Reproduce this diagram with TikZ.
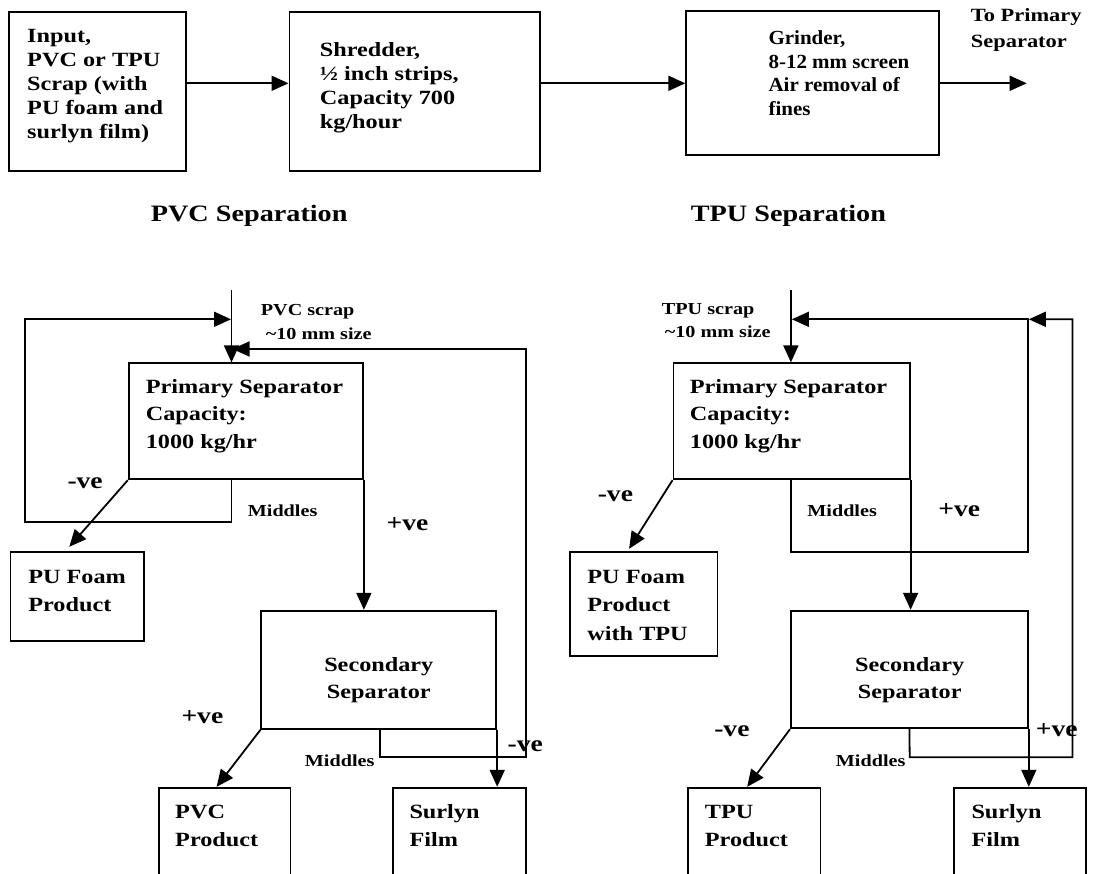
\documentclass[tikz,border=0pt]{standalone}
\usepackage{fontspec}
\setmainfont{Liberation Serif}[FakeStretch=1.2]
\newfontfamily\plainserif{Liberation Serif}[FakeStretch=1.05]
\usetikzlibrary{arrows.meta,fit}
\begin{document}
\begin{tikzpicture}[x=1pt,y=-1pt,
  line width=1.8pt,
  box/.style={draw, inner sep=0pt},
  arr/.style={-{Triangle[length=17pt,width=15pt]}},
  txt/.style={inner sep=0pt, align=left, anchor=base west},
  tA/.style={txt, font=\fontsize{20.2}{23.9}\selectfont\bfseries},
  tB/.style={txt, font=\fontsize{20.2}{28.3}\selectfont\bfseries},
  tC/.style={inner sep=0pt, align=center, anchor=base, font=\fontsize{20.2}{26.6}\selectfont\bfseries},
  ttl/.style={txt, font=\fontsize{23.5}{28}\selectfont\bfseries},
  sml/.style={txt, font=\fontsize{16.8}{23.5}\selectfont\bfseries},
  sgn/.style={txt, font=\fontsize{23}{28}\selectfont\bfseries}]
\clip (0,0) rectangle (1095,874);
% ---------- top row ----------
\node[box, fit={(8.8,11.7) (185.9,170.7)}] (input) {};
\node[box, fit={(289.4,11.7) (540.2,170.7)}] (shred) {};
\node[box, fit={(686.2,10.7) (939.3,155)}] (grind) {};
\node[tA] (tinput) at (26.3,138.3) {Input,\\PVC or TPU\\Scrap (with\\PU foam and\\surlyn film)};
\node[tA] (tshred) at (319,128.4) {Shredder,\\½ inch strips,\\Capacity 700\\kg/hour};
\node[txt, font=\plainserif\fontsize{20}{23.4}\selectfont\bfseries] (tgrind) at (767.6,115.2) {Grinder,\\8-12 mm screen\\Air removal of\\fines};
\node[txt, font=\fontsize{18.7}{26}\selectfont\bfseries] (toprim) at (970,48) {To Primary\\Separator};
\coordinate (out) at (1026.7,83.3);
\draw[arr] (input.east |- out) -- (shred.west |- out);
\draw[arr] (shred.east |- out) -- (grind.west |- out);
\draw[arr] (grind.east |- out) -- (out);
\node[ttl] (pvcsep) at (150,222) {PVC Separation};
\node[ttl] (tpusep) at (690,222) {TPU Separation};
% ---------- PVC separation ----------
\node[box, fit={(128.7,363.3) (363,479.3)}] (prim) {};
\node[box, fit={(10.5,551.7) (143.8,640.7)}] (pu) {};
\node[box, fit={(261.3,610.7) (496.3,729)}] (sec) {};
\node[box, fit={(158.9,787.7) (290.4,895)}] (pvc) {};
\node[box, fit={(392.8,787.7) (526.1,895)}] (sur) {};
\node[txt, font=\fontsize{20.2}{27.5}\selectfont\bfseries] (tprim) at (144.9,448.3) {Primary Separator\\Capacity:\\1000 kg/hr};
\node[tB] (tpu) at (27.4,611.7) {PU Foam\\Product};
\node[tC] (tsec) at (378.8,698.3) {Secondary\\Separator};
\node[tB] (tpvc) at (174.3,846.7) {PVC\\Product};
\node[tB] (tsur) at (408.6,846.7) {Surlyn\\Film};
\coordinate (pin) at (231.5,290);
\node[sml, font=\fontsize{16.8}{24}\selectfont\bfseries] (lscrap) at (260,340) {PVC scrap\\\hspace*{5pt}\textasciitilde10 mm size};
\draw[arr] (pin) -- (pin |- prim.north);
\draw[arr] (pin |- prim.south) |- (25.3,521.7) |- ([xshift=-0.5pt]pin |- 0,319.3);
\draw[arr] (379.9,729) -- (379.9,757.3) -| (526.1,349) -- ([xshift=1pt]pin |- 0,349);
\draw[arr] (prim.south east) -- (prim.south east |- sec.north);
\draw[arr] (prim.south west) -- ([xshift=59.7pt,yshift=4pt]pu.north west);
\draw[arr] (sec.south west) -- ([xshift=58.6pt]pvc.north west);
\draw[arr] (sec.south east) -- (sec.south east |- sur.north);
\node[sgn] (lneg1) at (66.6,488.3) {-ve};
\node[sml] (lmid1) at (247,516.7) {Middles};
\node[sgn] (lpos1) at (385.8,530) {+ve};
\node[sgn] (lpos2) at (180.6,723.3) {+ve};
\node[sml, anchor=base east] (lmid2) at (375.3,766.7) {Middles};
\node[sgn] (lneg2) at (506.8,751.7) {-ve};
% ---------- TPU separation ----------
\node[box, fit={(673.4,363.3) (909.7,479.3)}] (rprim) {};
\node[box, fit={(569.8,551.7) (717.5,656)}] (rpu) {};
\node[box, fit={(790.9,610.7) (1027.9,728.3)}] (rsec) {};
\node[box, fit={(688,787.7) (820.4,895)}] (tpu) {};
\node[box, fit={(953.9,787.7) (1086,895)}] (rsur) {};
\node[txt, font=\fontsize{20.2}{27.5}\selectfont\bfseries] (trprim) at (689,448.3) {Primary Separator\\Capacity:\\1000 kg/hr};
\node[tB] (trpu) at (586.5,640) {PU Foam\\Product\\with TPU};
\node[tC] (trsec) at (909.7,698.3) {Secondary\\Separator};
\node[tB] (ttpu) at (704,846.7) {TPU\\Product};
\node[tB] (trsur) at (970.6,846.7) {Surlyn\\Film};
\coordinate (tin) at (790.9,290);
\node[sml, font=\fontsize{16.8}{23}\selectfont\bfseries] (rscrap) at (661,338) {TPU scrap\\\hspace*{3pt}\textasciitilde10 mm size};
\draw[arr] (tin) -- (tin |- rprim.north);
\draw[arr] (tin |- rprim.south) |- (1027.9,551.7) -- (1027.9,319.3) -- ([xshift=1pt]tin |- 0,319.3);
\draw[arr] (rsec.south) -- (909.7,757.3) -| (1072.5,319.3) -- (1028.8,319.3);
\draw[arr] (rprim.south east) -- (rprim.south east |- rsec.north);
\draw[arr] (rprim.south west) -- ([xshift=60.2pt,yshift=2pt]rpu.north west);
\draw[arr] (rsec.south west) -- ([xshift=60.1pt]tpu.north west);
\draw[arr] (rsec.south east) -- (rsec.south east |- rsur.north);
\node[sgn] (rneg1) at (596.9,501.7) {-ve};
\node[sml] (rmid1) at (806.5,516.7) {Middles};
\node[sgn] (rpos1) at (937.5,516.7) {+ve};
\node[sgn] (rneg2) at (713.4,736.7) {-ve};
\node[sml, anchor=base east] (rmid2) at (906.3,766.7) {Middles};
\node[sgn] (rpos2) at (1034.9,736.7) {+ve};
\end{tikzpicture}
\end{document}
